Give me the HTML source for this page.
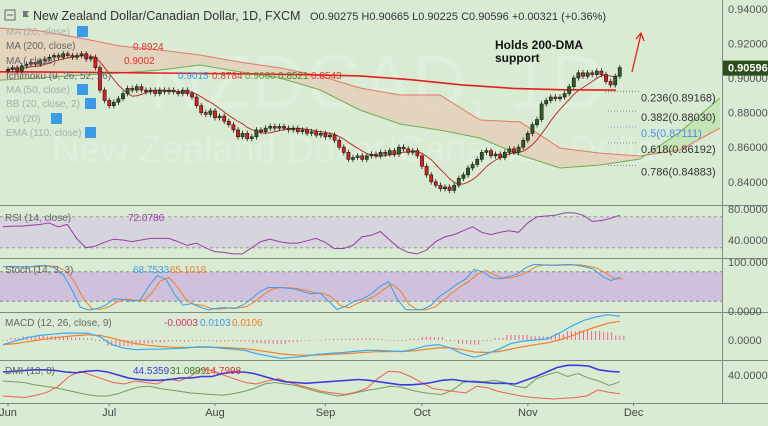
<!DOCTYPE html>
<html><head><meta charset="utf-8">
<style>
html,body{margin:0;padding:0;background:#d9ebd3;}
svg{display:block;font-family:"Liberation Sans",sans-serif;}
</style></head>
<body>
<svg id="c" width="768" height="426" viewBox="0 0 768 426">
<rect x="0" y="0" width="768" height="426" fill="#d9ebd3"/>
<g fill="#ffffff" fill-opacity="0.2">
<text x="150" y="108" font-size="76">NZDCAD, 1D</text>
<text x="52" y="162" font-size="38">New Zealand Dollar/Canadian Dollar</text>
</g>
<g id="layer"></g>
</svg>
<script>
const closes=[.905,.906,.904,.907,.908,.909,.908,.910,.911,.912,
.913,.912,.914,.913,.912,.913,.914,.911,.912,.906,
.893,.887,.884,.886,.888,.891,.894,.893,.895,.893,
.892,.893,.891,.893,.892,.893,.892,.891,.893,.891,
.889,.884,.880,.879,.881,.877,.878,.875,.873,.870,
.866,.868,.865,.866,.870,.869,.871,.872,.871,.872,
.871,.870,.871,.869,.870,.868,.869,.867,.868,.866,
.867,.864,.860,.857,.853,.854,.855,.853,.855,.856,
.855,.857,.856,.858,.856,.860,.859,.857,.858,.855,
.849,.844,.840,.838,.836,.837,.835,.838,.842,.844,
.848,.850,.853,.857,.858,.855,.856,.854,.857,.859,
.857,.860,.864,.868,.873,.876,.885,.887,.889,.888,
.889,.891,.895,.900,.903,.901,.903,.902,.904,.902,
.898,.896,.901,.906];
const ma200=[0.9036,0.9034,0.9032,0.9029,0.9026,0.9023,0.9019,0.9012,0.8990,0.8960,0.8940,0.8932,0.8930];
const spanB=[.9289,.9272,.9231,.9185,.9162,.9133,.9092,.9058,.9012,.8942,.8902,.8902,.8757,.8746,.8595,.8566,.8549,.8584,.8711];
const spanA=[.8988,.9,.9017,.9029,.9046,.9075,.9035,.9,.8931,.8815,.8734,.8699,.8653,.8555,.8480,.8497,.8532,.8688,.8884];
const fibLevels=["0.236","0.382","0.5","0.618","0.786"];
const fibPrices=[0.89168,0.88030,0.87111,0.86192,0.84883];
const priceTicks=[0.94,0.92,0.90,0.88,0.86,0.84];
const rsi=[57,58,58,59,60,62,57,60,42,30,32,37,41,40,38,40,42,42,42,38,33,36,30,25,24,22,22,30,38,41,38,36,36,39,42,37,29,29,33,44,46,51,40,30,24,22,27,38,44,47,52,57,50,47,50,52,50,62,70,71,72,75,75,72,64,65,68,72];
const stochK=[90,91,90,90,92,93,88,75,45,8,2,5,12,25,24,20,22,50,72,65,35,12,15,8,2,6,7,5,12,25,40,48,48,47,45,40,35,37,20,3,10,20,25,35,50,60,25,3,2,3,12,30,42,55,65,85,80,68,66,70,75,88,95,94,93,94,95,93,90,85,70,62,69];
const macd=[-0.002,-0.0005,0.001,0.002,0.0025,0.003,0.003,0.003,0.0015,-0.002,-0.0035,-0.0042,-0.004,-0.004,-0.0038,-0.0035,-0.003,-0.003,-0.0035,-0.004,-0.0045,-0.006,-0.007,-0.008,-0.0075,-0.007,-0.0062,-0.0058,-0.0055,-0.005,-0.0045,-0.0045,-0.0048,-0.005,-0.004,-0.0025,-0.002,-0.0035,-0.006,-0.0075,-0.006,-0.004,-0.0015,-0.0005,0.0,0.0005,0.003,0.006,0.0085,0.010,0.011,0.0103];
const adx=[44,45,46,47,47,46,44,43,45,46,44,40,36,34,33,33,34,36,36,38,38,42,44,44,42,38,34,31,30,29,30,31,32,33,34,33,31,29,27,27,28,30,33,34,32,31,30,29,29,28,33,38,44,50,53,53,52,47,45,44];
const diPlus=[32,31,30,27,25,23,20,17,14,12,12,15,20,24,25,22,20,18,16,15,14,13,15,18,22,28,30,28,26,22,18,15,12,14,17,20,22,25,24,20,17,15,14,20,30,32,31,33,30,25,23,35,40,44,38,42,36,32,26,31];
const diMinus=[12,11,10,13,17,25,38,45,40,35,30,28,32,30,28,35,32,38,48,46,40,35,30,28,32,35,30,26,22,18,16,14,17,22,35,45,44,38,30,22,20,18,16,25,23,18,15,12,10,9,8,9,10,12,20,17,15];
const months=["Jun","Jul","Aug","Sep","Oct","Nov","Dec"];
const monthIdx=[0,22,45,69,90,113,136];

const NS="http://www.w3.org/2000/svg";
const L=document.getElementById('layer');
function mk(tag,attrs,parent){const e=document.createElementNS(NS,tag);for(const k in attrs)e.setAttribute(k,attrs[k]);(parent||L).appendChild(e);return e;}
const py=p=>78-(p-0.90)*1730;
const cx=i=>8+i*4.6;
const XEND=cx(closes.length-1);
const spread=(arr,x0,x1)=>arr.map((v,i)=>[x0+(x1-x0)*i/(arr.length-1),v]);
const pathOf=pts=>pts.map((p,i)=>(i?'L':'M')+p[0].toFixed(1)+','+p[1].toFixed(1)).join(' ');

const seps=[205,258,312,360,403];
seps.forEach(y=>{
  const s=mk('line',{x1:0,x2:768,y1:y+0.5,y2:y+0.5,stroke:'#7d8a7d','stroke-width':1});
  
  
});
const ax=mk('line',{x1:722.5,x2:722.5,y1:0,y2:403,stroke:'#7d8a7d'});



const B=spread(spanB,0,720),A=spread(spanA,0,720);
for(let i=0;i<B.length-1;i++){
  const up=(spanB[i]+spanB[i+1])>=(spanA[i]+spanA[i+1]);
  const q=mk('polygon',{points:[[B[i][0],py(B[i][1])],[B[i+1][0],py(B[i+1][1])],[A[i+1][0],py(A[i+1][1])],[A[i][0],py(A[i][1])]].map(p=>p.join(',')).join(' '),fill:up?'#e4ccb6':'#bfe3ae','fill-opacity':0.75});
  
  
}
const sb=mk('path',{d:pathOf(B.map(p=>[p[0],py(p[1])])),fill:'none',stroke:'#e8766a','stroke-width':1});


const sa=mk('path',{d:pathOf(A.map(p=>[p[0],py(p[1])])),fill:'none',stroke:'#6fae55','stroke-width':1});



const m2=mk('path',{d:pathOf(spread(ma200,0,616).map(p=>[p[0],py(p[1])])),fill:'none',stroke:'#e51d1d','stroke-width':1.6});



const sma=[];for(let i=0;i<closes.length;i++){let s=0,n=0;for(let j=Math.max(0,i-7);j<=i;j++){s+=closes[j];n++;}sma.push([cx(i),py(s/n)]);}
const sm=mk('path',{d:pathOf(sma),fill:'none',stroke:'#b8332a','stroke-width':1});



closes.forEach((c,i)=>{
  const o=i?closes[i-1]:c-0.001;
  const hi=Math.max(o,c)+0.0016,lo=Math.min(o,c)-0.0016;
  const x=cx(i);
  const g=mk('g',{});
  
  
  mk('line',{x1:x,x2:x,y1:py(hi),y2:py(lo),stroke:'#222','stroke-width':0.8},g);
  const top=py(Math.max(o,c)),h=Math.max(1,py(Math.min(o,c))-top);
  mk('rect',{x:x-1.6,y:top,width:3.2,height:h,fill:c>=o?'#2e5e22':'#e31b1b',stroke:'#1a1a1a','stroke-width':0.6},g);
});

const fl=mk('line',{x1:605,x2:640,y1:py(0.8924)+0.5,y2:py(0.8924)+0.5,stroke:'#777','stroke-dasharray':'1,2'});


fibPrices.forEach((p,i)=>{
  const y=py(p)-1;
  const ln=mk('line',{x1:608,x2:636,y1:y,y2:y,stroke:i==2?'#7fa9d9':'#888','stroke-dasharray':'1,2'});
  
  
  const t=mk('text',{x:641,y:y+10,'font-size':11,fill:i==2?'#4c8fe0':'#333'});
  t.textContent=fibLevels[i]+'('+p.toFixed(5)+')';
  
  
});

priceTicks.forEach(p=>{
  const t=mk('text',{x:728,y:py(p)+4,'font-size':11,fill:'#555'});
  t.textContent=p.toFixed(5);
  
  
});
const tag=mk('g',{});


mk('rect',{x:723,y:py(closes[closes.length-1])-7,width:45,height:15,fill:'#2b4f1b'},tag);
const tt=mk('text',{x:728,y:py(closes[closes.length-1])+4,'font-size':11,'font-weight':'bold',fill:'#fff'},tag);
tt.textContent='0.90596';

function line(pts,color,w,name){const e=mk('path',{d:pathOf(pts),fill:'none',stroke:color,'stroke-width':w});return e;}
function axisLbl(txt,y,name){const t=mk('text',{x:728,y:y,'font-size':11,fill:'#555'});t.textContent=txt;}

const ry=v=>209+(80-v)*0.775;
const rb=mk('rect',{x:0,y:ry(70),width:722,height:ry(30)-ry(70),fill:'#d6d4dc'});


[70,30].forEach(v=>{const d=mk('line',{x1:0,x2:722,y1:ry(v),y2:ry(v),stroke:'#999','stroke-dasharray':'3,3'});});
line(spread(rsi,3,XEND).map(p=>[p[0],ry(p[1])]),'#9a3ca8',1,'rsi-line');
axisLbl('80.0000',ry(80)+4,'rsi-tick-80');axisLbl('40.0000',ry(40)+4,'rsi-tick-40');

const sy=v=>311-v*0.49;
const sbd=mk('rect',{x:0,y:sy(80),width:722,height:sy(20)-sy(80),fill:'#cfc0dc'});


[80,20].forEach(v=>{const d=mk('line',{x1:0,x2:722,y1:sy(v),y2:sy(v),stroke:'#888','stroke-dasharray':'3,3'});});
const stochD=stochK.map((v,i)=>{let s=0,n=0;for(let j=Math.max(0,i-1);j<=i;j++){s+=stochK[j];n++;}return s/n;});
line(spread(stochD,3,XEND).map(p=>[p[0]+3,sy(p[1])]),'#f0802a',1,'stoch-d-line');
line(spread(stochK,3,XEND).map(p=>[p[0],sy(p[1])]),'#3c9be8',1,'stoch-k-line');
axisLbl('100.0000',sy(100)+4,'stoch-tick-100');axisLbl('0.0000',sy(0)+4,'stoch-tick-0');

const my=v=>340-v*2300;
const sig=[];let e=macd[0];macd.forEach(v=>{e=e+(v-e)*0.3;sig.push(e);});
const mpts=spread(macd,3,XEND);
mpts.forEach((p,i)=>{
  const h=(macd[i]-sig[i])*0.9;
  const step=(XEND-3)/(macd.length-1);
  for(let k=0;k<3;k++){const x=p[0]-step/2+k*step/3+2;
  const b=mk('line',{x1:x,x2:x,y1:340,y2:my(h)+(Math.abs(h)<0.0003?1:0),stroke:'#f06090','stroke-width':1});
  
  }
});
line(spread(sig,3,XEND).map(p=>[p[0],my(p[1])]),'#f0802a',1.2,'macd-signal-line');
line(mpts.map(p=>[p[0],my(p[1])]),'#3ca8f0',1.2,'macd-line');
axisLbl('0.0000',344,'macd-tick-0');

const dy=v=>405-v*0.75;
line(spread(diPlus,3,XEND).map(p=>[p[0],dy(p[1])]),'#7a9a62',1,'di-plus-line');
line(spread(diMinus,3,XEND).map(p=>[p[0],dy(p[1])]),'#ef6050',1,'di-minus-line');
line(spread(adx,3,XEND).map(p=>[p[0],dy(p[1])]),'#3a3ae0',1.6,'adx-line');
axisLbl('40.0000',dy(40)+4,'dmi-tick-40');

months.forEach((m,i)=>{
  const x=cx(monthIdx[i]);
  const t=mk('text',{x:x,y:416,'font-size':11,fill:'#444','text-anchor':'middle'});
  t.textContent=m;
  
  
  const tk=mk('line',{x1:x,x2:x,y1:403,y2:406,stroke:'#777'});
  
  
});
</script>
<div style="position:absolute;left:0;top:0;width:768px;height:426px;pointer-events:none;">
<svg width="768" height="426" style="position:absolute;left:0;top:0;font-family:'Liberation Sans',sans-serif;">
<rect x="5" y="10" width="10" height="10" fill="none" stroke="#666"/>
<line x1="7" y1="15" x2="13" y2="15" stroke="#666"/>
<path d="M23 11 h6 l-2 3 l2 3 h-6 z" fill="#777"/>
<text x="33" y="20" font-size="12.5" fill="#333">New Zealand Dollar/Canadian Dollar, 1D, FXCM</text>
<text x="310" y="20" font-size="11" fill="#333">O0.90275  H0.90665  L0.90225  C0.90596  +0.00321 (+0.36%)</text>
<g font-size="10" fill="#a8b0a8">
<text x="6" y="35">MA (20, close)</text>
<text x="6" y="49" fill="#666">MA (200, close)</text>
<text x="133" y="50" fill="#e03030">0.8924</text>
<text x="6" y="64" fill="#666">MA (  close)</text>
<text x="124" y="64" fill="#e03030">0.9002</text>
<text x="6" y="79" fill="#666">Ichimoku (9, 26, 52, 26)</text>
<text x="178" y="79" fill="#3c9be8">0.9015</text>
<text x="212" y="79" fill="#d04040">0.8784</text>
<text x="245" y="79" fill="#6a9a3a">0.9060</text>
<text x="278" y="79" fill="#3a8a2a">0.8521</text>
<text x="311" y="79" fill="#e03030">0.8543</text>
<text x="6" y="93">MA (50, close)</text>
<text x="6" y="107">BB (20, close, 2)</text>
<text x="6" y="122">Vol (20)</text>
<text x="6" y="136">EMA (110, close)</text>
</g>
<g fill="#3c9be8">
<rect x="77" y="26" width="11" height="11"/><rect x="77" y="84" width="11" height="11"/><rect x="85" y="98" width="11" height="11"/><rect x="51" y="113" width="11" height="11"/><rect x="85" y="127" width="11" height="11"/>
</g>
<g font-size="10">
<text x="5" y="221" fill="#666">RSI (14, close)</text><text x="128" y="221" fill="#9a3ca8">72.0786</text>
<text x="5" y="273" fill="#666">Stoch (14, 3, 3)</text><text x="133" y="273" fill="#3c9be8">68.7533</text><text x="170" y="273" fill="#f0802a">65.1018</text>
<text x="5" y="326" fill="#666">MACD (12, 26, close, 9)</text><text x="164" y="326" fill="#e0306a">-0.0003</text><text x="200" y="326" fill="#3c9be8">0.0103</text><text x="232" y="326" fill="#f0802a">0.0106</text>
<text x="5" y="374" fill="#666">DMI (13, 8)</text><text x="133" y="374" fill="#3a3ae0">44.5359</text><text x="170" y="374" fill="#3a7a2a">31.0899</text><text x="205" y="374" fill="#e03030">14.7998</text>
</g>
<text x="495" y="49" font-size="12" font-weight="bold" fill="#111">Holds 200-DMA</text>
<text x="495" y="62" font-size="12" font-weight="bold" fill="#111">support</text>
<g stroke="#e82020" stroke-width="1.3" fill="none">
<line x1="632" y1="72" x2="641" y2="34"/><path d="M636 39 L641 33 L644 41"/>
</g>
</svg></div>
</body></html>
